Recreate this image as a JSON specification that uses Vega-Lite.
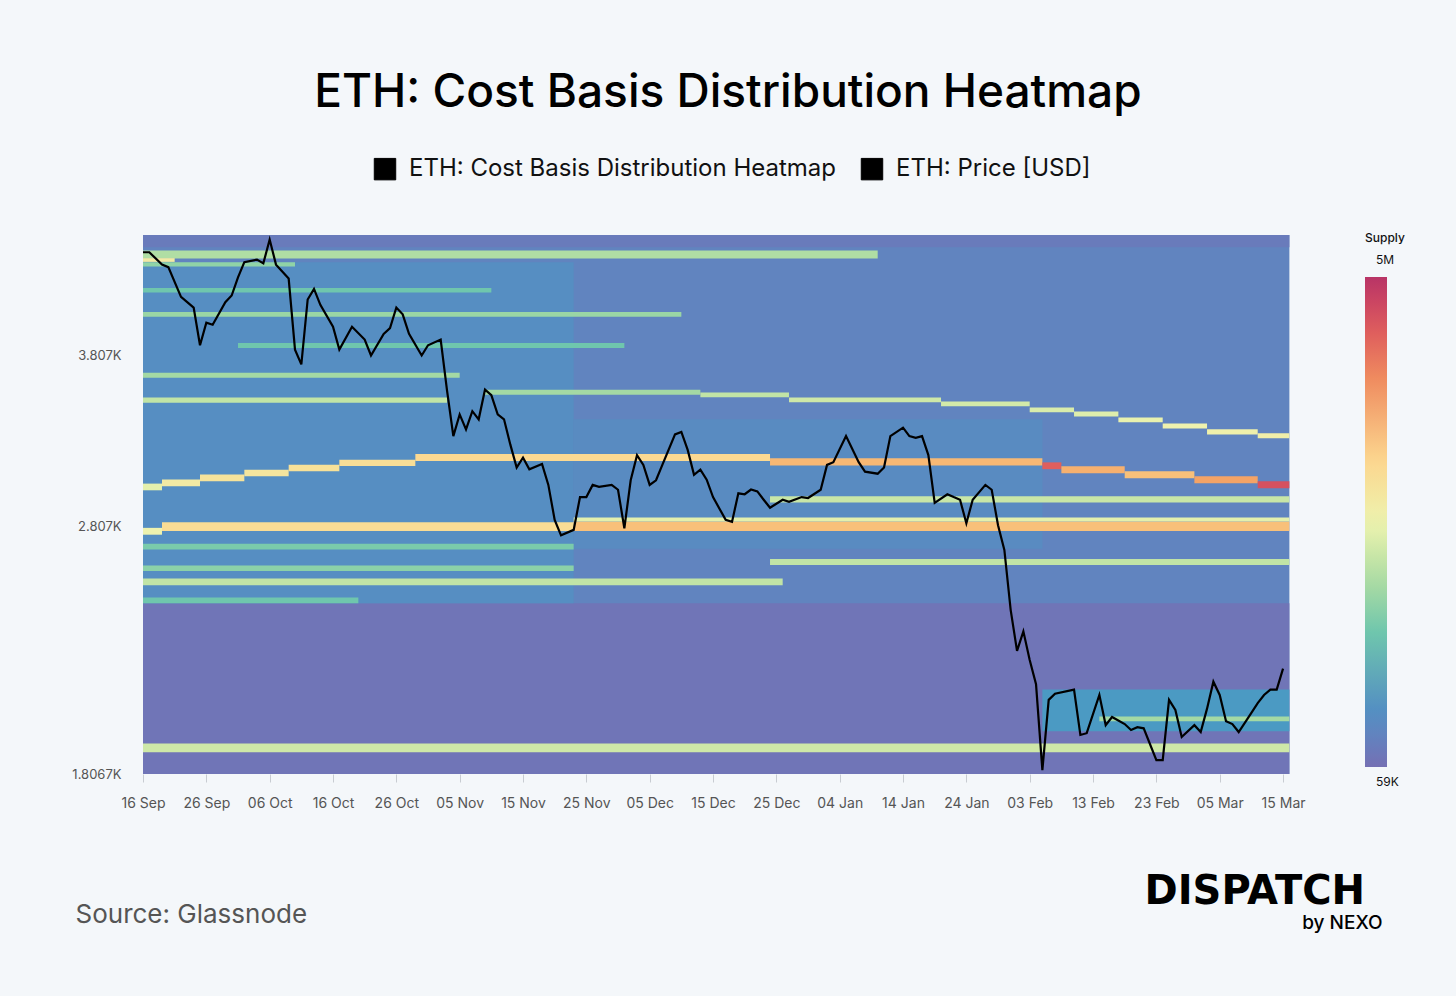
{
  "$schema": "https://vega.github.io/schema/vega-lite/v6.json",
  "width": 1144,
  "height": 539,
  "autosize": "none",
  "padding": {"left": 143, "top": 235, "right": 169, "bottom": 222},
  "background": "#f4f7fa",
  "config": {"view": {"stroke": null}, "font": "Inter"},
  "title": {"text": "ETH: Cost Basis Distribution Heatmap", "fontSize": 46, "fontWeight": 500, "color": "#000", "offset": 40, "dx": 13},
  "datasets": {
    "heat": [
      {"d0": "2024/09/16", "d1": "2025/03/16", "p0": 1806.7, "p1": 4723, "s": 80000},
      {"d0": "2024/09/16", "d1": "2025/03/16", "p0": 1806.7, "p1": 2450, "s": 64000},
      {"d0": "2024/09/16", "d1": "2025/03/16", "p0": 4620, "p1": 4723, "s": 70000},
      {"d0": "2024/09/16", "d1": "2024/11/23", "p0": 2450, "p1": 4500, "s": 96000},
      {"d0": "2024/11/23", "d1": "2025/02/05", "p0": 2700, "p1": 3400, "s": 90000},
      {"d0": "2025/02/05", "d1": "2025/03/16", "p0": 1950, "p1": 2100, "s": 112000},
      {"d0": "2025/02/14", "d1": "2025/03/16", "p0": 1985, "p1": 2002, "s": 300000},
      {"d0": "2024/09/16", "d1": "2025/01/10", "p0": 4530, "p1": 4595, "s": 330000},
      {"d0": "2024/09/16", "d1": "2024/10/10", "p0": 4465, "p1": 4500, "s": 260000},
      {"d0": "2024/09/16", "d1": "2024/09/21", "p0": 4502, "p1": 4532, "s": 650000},
      {"d0": "2024/09/16", "d1": "2024/11/10", "p0": 4262, "p1": 4298, "s": 200000},
      {"d0": "2024/09/16", "d1": "2024/12/10", "p0": 4082, "p1": 4118, "s": 280000},
      {"d0": "2024/10/01", "d1": "2024/12/01", "p0": 3862, "p1": 3895, "s": 200000},
      {"d0": "2024/09/16", "d1": "2024/11/05", "p0": 3662, "p1": 3695, "s": 300000},
      {"d0": "2024/09/16", "d1": "2024/11/03", "p0": 3502, "p1": 3535, "s": 380000},
      {"d0": "2024/11/09", "d1": "2024/12/13", "p0": 3553, "p1": 3584, "s": 300000},
      {"d0": "2024/12/13", "d1": "2024/12/27", "p0": 3536, "p1": 3566, "s": 380000},
      {"d0": "2024/12/27", "d1": "2025/01/20", "p0": 3505, "p1": 3535, "s": 420000},
      {"d0": "2025/01/20", "d1": "2025/02/03", "p0": 3480, "p1": 3510, "s": 440000},
      {"d0": "2025/02/03", "d1": "2025/02/10", "p0": 3443, "p1": 3473, "s": 460000},
      {"d0": "2025/02/10", "d1": "2025/02/17", "p0": 3418, "p1": 3448, "s": 480000},
      {"d0": "2025/02/17", "d1": "2025/02/24", "p0": 3382, "p1": 3412, "s": 520000},
      {"d0": "2025/02/24", "d1": "2025/03/03", "p0": 3345, "p1": 3375, "s": 560000},
      {"d0": "2025/03/03", "d1": "2025/03/11", "p0": 3310, "p1": 3340, "s": 580000},
      {"d0": "2025/03/11", "d1": "2025/03/16", "p0": 3287, "p1": 3317, "s": 600000},
      {"d0": "2024/09/16", "d1": "2024/09/19", "p0": 2996, "p1": 3032, "s": 500000},
      {"d0": "2024/09/19", "d1": "2024/09/25", "p0": 3018, "p1": 3054, "s": 650000},
      {"d0": "2024/09/25", "d1": "2024/10/02", "p0": 3045, "p1": 3081, "s": 750000},
      {"d0": "2024/10/02", "d1": "2024/10/09", "p0": 3072, "p1": 3108, "s": 720000},
      {"d0": "2024/10/09", "d1": "2024/10/17", "p0": 3099, "p1": 3135, "s": 780000},
      {"d0": "2024/10/17", "d1": "2024/10/29", "p0": 3128, "p1": 3164, "s": 820000},
      {"d0": "2024/10/29", "d1": "2024/12/24", "p0": 3156, "p1": 3196, "s": 900000},
      {"d0": "2024/12/24", "d1": "2025/02/05", "p0": 3132, "p1": 3172, "s": 1300000},
      {"d0": "2025/02/05", "d1": "2025/02/08", "p0": 3111, "p1": 3149, "s": 3000000},
      {"d0": "2025/02/08", "d1": "2025/02/18", "p0": 3089, "p1": 3127, "s": 1400000},
      {"d0": "2025/02/18", "d1": "2025/03/01", "p0": 3061, "p1": 3099, "s": 1200000},
      {"d0": "2025/03/01", "d1": "2025/03/11", "p0": 3034, "p1": 3072, "s": 1600000},
      {"d0": "2025/03/11", "d1": "2025/03/16", "p0": 3007, "p1": 3045, "s": 3500000},
      {"d0": "2024/12/24", "d1": "2025/03/16", "p0": 2932, "p1": 2964, "s": 400000},
      {"d0": "2024/09/16", "d1": "2024/09/19", "p0": 2768, "p1": 2802, "s": 550000},
      {"d0": "2024/09/19", "d1": "2024/11/23", "p0": 2786, "p1": 2830, "s": 850000},
      {"d0": "2024/11/23", "d1": "2025/03/16", "p0": 2786, "p1": 2834, "s": 1200000},
      {"d0": "2024/11/23", "d1": "2025/03/16", "p0": 2834, "p1": 2854, "s": 500000},
      {"d0": "2024/09/16", "d1": "2024/11/23", "p0": 2696, "p1": 2724, "s": 220000},
      {"d0": "2024/12/24", "d1": "2025/03/16", "p0": 2623, "p1": 2651, "s": 380000},
      {"d0": "2024/09/16", "d1": "2024/11/23", "p0": 2595, "p1": 2620, "s": 250000},
      {"d0": "2024/09/16", "d1": "2024/12/26", "p0": 2530, "p1": 2560, "s": 380000},
      {"d0": "2024/09/16", "d1": "2024/10/20", "p0": 2450, "p1": 2475, "s": 200000},
      {"d0": "2024/09/16", "d1": "2025/03/16", "p0": 1878, "p1": 1908, "s": 420000}
    ],
    "price": [
      {"date": "2024/09/16", "v": 4580}, {"date": "2024/09/17", "v": 4580}, {"date": "2024/09/19", "v": 4480},
      {"date": "2024/09/20", "v": 4460}, {"date": "2024/09/22", "v": 4230}, {"date": "2024/09/24", "v": 4150},
      {"date": "2024/09/25", "v": 3880}, {"date": "2024/09/26", "v": 4040}, {"date": "2024/09/27", "v": 4025},
      {"date": "2024/09/29", "v": 4190}, {"date": "2024/09/30", "v": 4240}, {"date": "2024/10/01", "v": 4380},
      {"date": "2024/10/02", "v": 4500}, {"date": "2024/10/04", "v": 4520}, {"date": "2024/10/05", "v": 4490},
      {"date": "2024/10/06", "v": 4685}, {"date": "2024/10/07", "v": 4480}, {"date": "2024/10/09", "v": 4370},
      {"date": "2024/10/10", "v": 3850}, {"date": "2024/10/11", "v": 3750}, {"date": "2024/10/12", "v": 4210},
      {"date": "2024/10/13", "v": 4290}, {"date": "2024/10/14", "v": 4170}, {"date": "2024/10/16", "v": 4010},
      {"date": "2024/10/17", "v": 3850}, {"date": "2024/10/19", "v": 4010}, {"date": "2024/10/21", "v": 3920},
      {"date": "2024/10/22", "v": 3810}, {"date": "2024/10/24", "v": 3960}, {"date": "2024/10/25", "v": 4000},
      {"date": "2024/10/26", "v": 4150}, {"date": "2024/10/27", "v": 4100}, {"date": "2024/10/28", "v": 3960},
      {"date": "2024/10/30", "v": 3810}, {"date": "2024/10/31", "v": 3880}, {"date": "2024/11/02", "v": 3920},
      {"date": "2024/11/03", "v": 3580}, {"date": "2024/11/04", "v": 3300}, {"date": "2024/11/05", "v": 3430},
      {"date": "2024/11/06", "v": 3340}, {"date": "2024/11/07", "v": 3450}, {"date": "2024/11/08", "v": 3400},
      {"date": "2024/11/09", "v": 3585}, {"date": "2024/11/10", "v": 3550}, {"date": "2024/11/11", "v": 3430},
      {"date": "2024/11/12", "v": 3400}, {"date": "2024/11/13", "v": 3250}, {"date": "2024/11/14", "v": 3120},
      {"date": "2024/11/15", "v": 3175}, {"date": "2024/11/16", "v": 3110}, {"date": "2024/11/18", "v": 3140},
      {"date": "2024/11/19", "v": 3025}, {"date": "2024/11/20", "v": 2842}, {"date": "2024/11/21", "v": 2765},
      {"date": "2024/11/23", "v": 2792}, {"date": "2024/11/24", "v": 2960}, {"date": "2024/11/25", "v": 2960},
      {"date": "2024/11/26", "v": 3025}, {"date": "2024/11/27", "v": 3015}, {"date": "2024/11/29", "v": 3025},
      {"date": "2024/11/30", "v": 2999}, {"date": "2024/12/01", "v": 2800}, {"date": "2024/12/02", "v": 3050},
      {"date": "2024/12/03", "v": 3190}, {"date": "2024/12/04", "v": 3135}, {"date": "2024/12/05", "v": 3025},
      {"date": "2024/12/06", "v": 3050}, {"date": "2024/12/07", "v": 3135}, {"date": "2024/12/09", "v": 3310},
      {"date": "2024/12/10", "v": 3325}, {"date": "2024/12/11", "v": 3220}, {"date": "2024/12/12", "v": 3080},
      {"date": "2024/12/13", "v": 3108}, {"date": "2024/12/14", "v": 3053}, {"date": "2024/12/15", "v": 2960},
      {"date": "2024/12/17", "v": 2842}, {"date": "2024/12/18", "v": 2832}, {"date": "2024/12/19", "v": 2980},
      {"date": "2024/12/20", "v": 2975}, {"date": "2024/12/21", "v": 3000}, {"date": "2024/12/22", "v": 2990},
      {"date": "2024/12/23", "v": 2946}, {"date": "2024/12/24", "v": 2904}, {"date": "2024/12/26", "v": 2946},
      {"date": "2024/12/27", "v": 2935}, {"date": "2024/12/29", "v": 2960}, {"date": "2024/12/30", "v": 2955},
      {"date": "2025/01/01", "v": 2999}, {"date": "2025/01/02", "v": 3135}, {"date": "2025/01/03", "v": 3150},
      {"date": "2025/01/05", "v": 3300}, {"date": "2025/01/07", "v": 3150}, {"date": "2025/01/08", "v": 3097},
      {"date": "2025/01/10", "v": 3086}, {"date": "2025/01/11", "v": 3120}, {"date": "2025/01/12", "v": 3300},
      {"date": "2025/01/14", "v": 3350}, {"date": "2025/01/15", "v": 3300}, {"date": "2025/01/16", "v": 3290},
      {"date": "2025/01/17", "v": 3300}, {"date": "2025/01/18", "v": 3190}, {"date": "2025/01/19", "v": 2930},
      {"date": "2025/01/21", "v": 2975}, {"date": "2025/01/22", "v": 2960}, {"date": "2025/01/23", "v": 2946},
      {"date": "2025/01/24", "v": 2825}, {"date": "2025/01/25", "v": 2946}, {"date": "2025/01/27", "v": 3025},
      {"date": "2025/01/28", "v": 2999}, {"date": "2025/01/29", "v": 2815}, {"date": "2025/01/30", "v": 2694},
      {"date": "2025/01/31", "v": 2420}, {"date": "2025/02/01", "v": 2250}, {"date": "2025/02/02", "v": 2330},
      {"date": "2025/02/03", "v": 2214}, {"date": "2025/02/04", "v": 2120}, {"date": "2025/02/05", "v": 1819},
      {"date": "2025/02/06", "v": 2062}, {"date": "2025/02/07", "v": 2085}, {"date": "2025/02/10", "v": 2100},
      {"date": "2025/02/11", "v": 1937}, {"date": "2025/02/12", "v": 1943}, {"date": "2025/02/14", "v": 2080},
      {"date": "2025/02/15", "v": 1971}, {"date": "2025/02/16", "v": 2000}, {"date": "2025/02/18", "v": 1975},
      {"date": "2025/02/19", "v": 1954}, {"date": "2025/02/20", "v": 1964}, {"date": "2025/02/21", "v": 1960},
      {"date": "2025/02/23", "v": 1852}, {"date": "2025/02/24", "v": 1852}, {"date": "2025/02/25", "v": 2062},
      {"date": "2025/02/26", "v": 2025}, {"date": "2025/02/27", "v": 1930}, {"date": "2025/03/01", "v": 1971},
      {"date": "2025/03/02", "v": 1947}, {"date": "2025/03/03", "v": 2030}, {"date": "2025/03/04", "v": 2130},
      {"date": "2025/03/05", "v": 2080}, {"date": "2025/03/06", "v": 1985}, {"date": "2025/03/07", "v": 1975},
      {"date": "2025/03/08", "v": 1947}, {"date": "2025/03/10", "v": 2015}, {"date": "2025/03/11", "v": 2050},
      {"date": "2025/03/12", "v": 2080}, {"date": "2025/03/13", "v": 2100}, {"date": "2025/03/14", "v": 2100},
      {"date": "2025/03/15", "v": 2180}
    ]
  },
  "resolve": {"axis": {"x": "independent", "y": "independent"}},
  "layer": [
    {
      "data": {"name": "heat"},
      "mark": {"type": "rect"},
      "encoding": {
        "x": {
          "field": "d0", "type": "temporal",
          "scale": {"domain": ["2024-09-16T00:00:00", "2025-03-15T15:00:00"]},
          "axis": {
            "values": ["2024-09-16T00:00:00", "2024-09-26T00:00:00", "2024-10-06T00:00:00", "2024-10-16T00:00:00", "2024-10-26T00:00:00", "2024-11-05T00:00:00", "2024-11-15T00:00:00", "2024-11-25T00:00:00", "2024-12-05T00:00:00", "2024-12-15T00:00:00", "2024-12-25T00:00:00", "2025-01-04T00:00:00", "2025-01-14T00:00:00", "2025-01-24T00:00:00", "2025-02-03T00:00:00", "2025-02-13T00:00:00", "2025-02-23T00:00:00", "2025-03-05T00:00:00", "2025-03-15T00:00:00"],
            "format": "%d %b", "grid": false, "domain": false, "tickColor": "#c8ccd2", "tickSize": 8,
            "labelOverlap": false, "labelFlush": false, "labelBound": false,
            "labelFontSize": 14, "labelColor": "#555", "labelPadding": 14,
            "title": "Source: Glassnode", "titleFontSize": 26, "titleFontWeight": "normal", "titleColor": "#555",
            "titleAnchor": null, "titleAlign": "left", "titleBaseline": "alphabetic", "titleX": -68, "titleY": 148
          }
        },
        "x2": {"field": "d1"},
        "y": {
          "field": "p0", "type": "quantitative",
          "scale": {"type": "log", "domain": [1806.7, 4723], "nice": false, "zero": false},
          "axis": {"values": [1806.7, 2807, 3807], "labelExpr": "format(datum.value/1000, '.4~f') + 'K'", "grid": false, "domain": false, "ticks": false, "labelFontSize": 13, "labelColor": "#555", "labelPadding": 22, "title": null}
        },
        "y2": {"field": "p1"},
        "color": {
          "field": "s", "type": "quantitative",
          "scale": {"type": "log", "domain": [59000, 5000000], "range": ["#7570b3", "#5392c2", "#62c0b0", "#a9dba4", "#eef3b0", "#fcd690", "#f4a064", "#e2635c", "#b83466"]},
          "legend": {
            "orient": "none", "legendX": 1222, "legendY": -2, "title": "Supply", "titleFontSize": 12, "titleFontWeight": 500, "titleColor": "#111", "titlePadding": 32,
            "gradientLength": 490, "gradientThickness": 22, "gradientStrokeWidth": 0,
            "values": [59000, 5000000], "labelExpr": "datum.value > 1000000 ? '5M' : '59K'",
            "labelFontSize": 12, "labelColor": "#111", "labelAlign": "center", "labelOffset": -11,
            "encode": {"labels": {"update": {"baseline": {"signal": "datum.value > 1000000 ? 'bottom' : 'top'"}, "dy": {"signal": "datum.value > 1000000 ? -10 : 10"}}}}
          }
        }
      }
    },
    {
      "mark": {"type": "text", "fontSize": 112, "fontWeight": 600, "color": "#333", "opacity": 0.07, "font": "Inter"},
      "encoding": {
        "x": {"datum": {"year": 2024, "month": 12, "date": 18}, "type": "temporal", "axis": null},
        "y": {"datum": 2999, "type": "quantitative", "axis": null},
        "text": {"value": "glassnode"}
      }
    },
    {
      "data": {"name": "price"},
      "mark": {"type": "line", "strokeWidth": 2.2},
      "encoding": {
        "x": {"field": "date", "type": "temporal", "axis": {"orient": "top", "labels": false, "ticks": false, "domain": false, "grid": false, "title": "by NEXO", "titleFontSize": 19, "titleFontWeight": 500, "titleColor": "#000", "titleAnchor": null, "titleAlign": "right", "titleBaseline": "alphabetic", "titleX": 1239, "titleY": 693}},
        "y": {"field": "v", "type": "quantitative", "axis": {"orient": "right", "labels": false, "ticks": false, "domain": false, "grid": false, "title": "DISPATCH", "titleFont": "DejaVu Sans", "titleFontSize": 40, "titleFontWeight": "bold", "titleColor": "#000", "titleAngle": 0, "titleAnchor": null, "titleAlign": "left", "titleBaseline": "alphabetic", "titleX": -143, "titleY": 668}},
        "stroke": {
          "datum": "ETH: Price [USD]",
          "scale": {"domain": ["ETH: Cost Basis Distribution Heatmap", "ETH: Price [USD]"], "range": ["#000", "#000"]},
          "legend": {"orient": "none", "legendX": 230, "legendY": -78, "direction": "horizontal", "title": null, "symbolType": "square", "symbolSize": 460, "symbolFillColor": "#000", "symbolStrokeColor": "#000", "symbolStrokeWidth": 1, "labelFontSize": 24, "labelColor": "#111", "labelOffset": 12, "labelLimit": 0, "columnPadding": 22}
        }
      }
    }
  ]
}
